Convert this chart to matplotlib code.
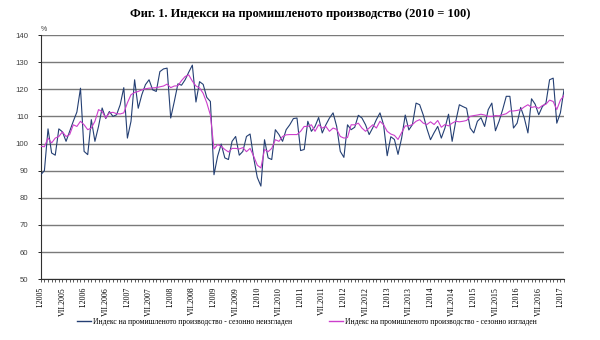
"""Fig. 1: industrial production indices (2010 = 100), monthly 2005-2017."""

import matplotlib

matplotlib.use("Agg")
import matplotlib.pyplot as plt
from matplotlib.lines import Line2D
from matplotlib.ticker import FixedLocator, MultipleLocator

TITLE = "Фиг. 1. Индекси на промишленото производство (2010 = 100)"
LABEL_NSA = "Индекс на промишленото производство - сезонно неизгладен"
LABEL_SA = "Индекс на промишленото производство - сезонно изгладен"

# Jan 2005 .. Feb 2017, one value per month
nsa = [
    88.5, 90, 105.4, 96.5, 95.7, 105.4, 104.3, 100.8, 104.5, 108.2, 111.6, 120.4,
    97.1, 95.9, 108.8, 100.8, 106.3, 113.1, 109.2, 111.8, 110, 110.6, 114.3, 120.6,
    102, 108.2, 123.5, 113, 118, 121.7, 123.5, 119.8, 119.2, 126.5, 127.5, 127.8,
    109.4, 115.5, 122, 121.5, 123.5, 126.3, 128.9, 115.3, 122.8, 121.8, 117, 115.5,
    88.5, 95.3, 99.8, 94.7, 94.1, 100.8, 102.6, 95.7, 97.1, 102.6, 103.5, 94.7,
    87.5, 84.3, 101.4, 94.7, 94.1, 105.1, 103.3, 100.8, 105.1, 106.9, 109.2, 109.4,
    97.4, 97.8, 108.2, 104.5, 106.3, 109.6, 103.9, 106.9, 109.4, 111.3, 106.3, 97.1,
    94.9, 106.9, 105.1, 106, 110.4, 109.4, 106.9, 103.3, 105.8, 108.8, 111.3, 106.9,
    95.5, 102.5, 101.5, 96, 102, 110.5, 105, 107, 114.9, 114.3, 110.5, 105.5,
    101.4, 104, 106.3, 102, 105.7, 110.8, 100.8, 108.2, 114.3, 113.6, 113, 105.7,
    103.9, 108.2, 109.5, 106.3, 112.5, 114.9, 104.7, 108.2, 112.5, 117.4, 117.4, 105.7,
    107.5, 113.3, 109.4, 103.9, 116.5, 114.5, 110.6, 113.6, 114.9, 123.5, 124.1, 107.5,
    111.3, 119.8,
]

sa = [
    99, 98.8, 102, 100.2, 102, 102.6, 104.3, 102.6, 103.3, 106.9, 106.3, 108.2,
    106.9, 105.1, 105.7, 108.2, 112.5, 111.8, 109.4, 111.3, 111.5, 111, 110.9, 111.3,
    115, 118, 118.8, 119.2, 119.8, 120.2, 120.4, 120.5, 120.6, 120.9, 121.2, 121.9,
    120.6, 121.2, 121.3, 123.2, 124.7, 125.3, 123, 121.2, 120.5, 118.5, 115, 110.5,
    98, 99.6, 99, 97.8, 96.9, 98.2, 98.2, 98, 98.5, 97, 98.2, 95.3,
    92, 91, 97.8, 97, 98.2, 101.4, 100.8, 102.6, 103.2, 103.3, 103.3, 103.3,
    104.5, 106.3, 106.3, 106.9, 104.5, 106.9, 105.7, 106.3, 104.5, 105.7, 105.2, 102.6,
    102, 102.2, 106.9, 106.9, 107.5, 105.7, 104.5, 105.7, 106.9, 105.7, 108.2, 106.9,
    104.5, 103.5, 103, 101.5, 104, 106.5, 106.5, 107, 108.2, 108.8, 107.5, 107,
    108, 107, 108.5, 106, 107, 106.5, 107.5, 108.2, 108, 108.2, 108.5, 110,
    110.3, 110.5, 110.8, 110.5, 110, 110, 110.3, 110.2, 110.6, 111, 112, 112,
    112.2, 112.5, 113.5, 114.3, 113.3, 113.6, 113, 114, 114.5, 116, 115.5, 112.5,
    116, 117.7,
]

tick_labels = [
    "I.2005", "VII.2005", "I.2006", "VII.2006", "I.2007", "VII.2007",
    "I.2008", "VII.2008", "I.2009", "VII.2009", "I.2010", "VII.2010",
    "I.2011", "VII.2011", "I.2012", "VII.2012", "I.2013", "VII.2013",
    "I.2014", "VII.2014", "I.2015", "VII.2015", "I.2016", "VII.2016",
    "I.2017",
]

BLUE = "#243f73"
MAGENTA = "#cc3fcc"

fig = plt.figure(figsize=(6, 3.4), dpi=100)
ax = fig.add_axes([0.068, 0.179, 0.872, 0.718])

x = list(range(len(nsa)))
ax.plot(x, nsa, color=BLUE, linewidth=0.8, zorder=3)
ax.plot(x, sa, color=MAGENTA, linewidth=0.8, zorder=4)

ax.set_xlim(0, len(nsa) - 1)
ax.set_ylim(50, 140)
ax.yaxis.set_major_locator(MultipleLocator(10))
ax.yaxis.grid(True, color="#7a7a7a", linewidth=1.0, zorder=1)
ax.set_axisbelow(True)

ax.xaxis.set_major_locator(FixedLocator([6 * k for k in range(len(tick_labels))]))
ax.xaxis.set_minor_locator(MultipleLocator(1))
ax.set_xticklabels(tick_labels, rotation=90, fontsize=5.8,
                   family="Liberation Serif", va="top", ha="center")
ax.tick_params(axis="x", which="both", length=2.5, width=0.6, color="#404040", pad=3)
ax.tick_params(axis="y", length=2, width=0.6, labelsize=5.6, labelcolor="#404040", pad=7)
for lab in ax.get_yticklabels():
    lab.set_family("Liberation Sans")

for side in ("top", "right"):
    ax.spines[side].set_visible(False)
ax.spines["left"].set_color("#303030")
ax.spines["left"].set_linewidth(0.8)
ax.spines["bottom"].set_color("#303030")
ax.spines["bottom"].set_linewidth(0.8)

ax.text(0.0, 1.01, "%", transform=ax.transAxes, fontsize=5, color="#404040",
        ha="left", va="bottom", family="Liberation Sans")

fig.text(0.5, 0.958, TITLE, ha="center", va="center", fontsize=9,
         fontweight="bold", family="Liberation Serif")

handles = [Line2D([], [], color=BLUE, linewidth=1.0),
           Line2D([], [], color=MAGENTA, linewidth=1.0)]
fig.legend(handles, [LABEL_NSA, LABEL_SA], ncol=2, loc="center left",
           bbox_to_anchor=(0.122, 0.053), frameon=False, borderpad=0,
           handlelength=1.8, handletextpad=0.3, columnspacing=4.8,
           prop={"family": "Liberation Serif", "size": 5.5})

fig.savefig("out.png", dpi=100)
